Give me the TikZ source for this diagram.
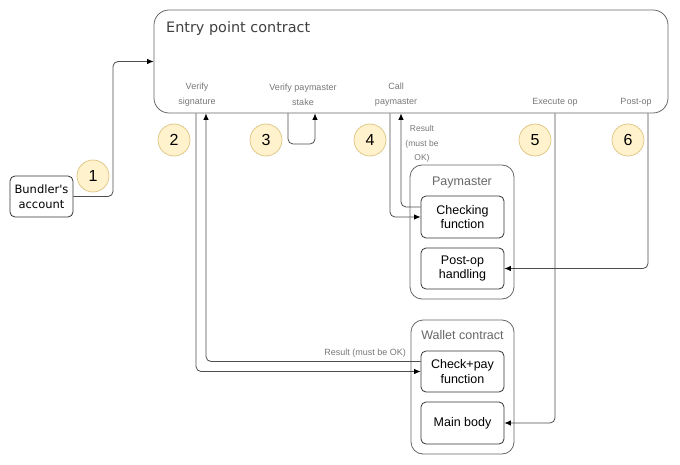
\documentclass[tikz,border=0pt]{standalone}
\usepackage{fontspec}
\setmainfont{Liberation Sans}
\newfontfamily\dejavu{DejaVu Sans}
\usetikzlibrary{arrows.meta}
\definecolor{linegray}{HTML}{4D4D4D}
\definecolor{boxgray}{HTML}{666666}
\definecolor{labgray}{HTML}{777777}
\definecolor{circfill}{HTML}{FFF2CC}
\definecolor{circdraw}{HTML}{DCC47E}
\tikzset{
  conn/.style={draw=linegray, line width=0.8pt, rounded corners=5pt, -{Latex[length=6.5pt,width=5.5pt,color=black]}},
  outerbox/.style={draw=boxgray, line width=0.8pt, rounded corners=12pt, inner sep=0pt},
  innerbox/.style={draw=black!80, line width=0.8pt, rounded corners=5pt, align=center, inner sep=0pt,
    font=\fontsize{12.5}{14.5}\selectfont, text=black},
  numcirc/.style={circle, fill=circfill, draw=circdraw, line width=0.7pt, minimum size=32pt, inner sep=0pt,
    font=\fontsize{16}{16}\selectfont},
  smalllab/.style={text=labgray, align=center, font=\fontsize{9}{15}\selectfont, inner sep=0pt},
  cont/.style={text=boxgray, font=\fontsize{12.5}{14}\selectfont, inner sep=0pt}
}
\begin{document}
\begin{tikzpicture}[x=1pt,y=-1pt]
\useasboundingbox (0,0) rectangle (680,465);
% boxes
\node[outerbox, minimum width=514pt, minimum height=103pt, rounded corners=15pt] (entry) at (411,61.5) {};
\node[anchor=base west, text=black!75, font=\dejavu\fontsize{14.4}{16}\selectfont, inner sep=0pt] (entrytitle) at (166,33) {Entry point contract};
\node[innerbox, minimum width=63pt, minimum height=41pt, font=\dejavu\fontsize{11.5}{15}\selectfont] (bundler) at (41.5,196.5) {Bundler's\\account};

\node[outerbox, minimum width=104pt, minimum height=134pt] (paymaster) at (462,232) {};
\node[cont] (paytitle) at (462,182) {Paymaster};
\node[innerbox, minimum width=83pt, minimum height=42pt] (checking) at (462.5,217) {Checking\\function};
\node[innerbox, minimum width=83pt, minimum height=41pt] (posthandling) at (462.5,268.5) {Post-op\\handling};

\node[outerbox, minimum width=103pt, minimum height=134pt] (wallet) at (462.5,387) {};
\node[cont] (wallettitle) at (462.5,335) {Wallet contract};
\node[innerbox, minimum width=83pt, minimum height=41pt] (checkpay) at (462.5,371.5) {Check+pay\\function};
\node[innerbox, minimum width=83pt, minimum height=42pt] (mainbody) at (462.5,423) {Main body};

% labels in entry point
\node[smalllab] (lsig) at (197,94.5) {Verify\\signature};
\node[smalllab] (lstake) at (303,94.5) {Verify paymaster\\stake};
\node[smalllab] (lcall) at (396,94.5) {Call\\paymaster};
\node[smalllab] (lexec) at (555,102.5) {Execute op};
\node[smalllab] (lpost) at (636,102.5) {Post-op};

% circles
\node[numcirc] (n1) at (93,176) {1};
\node[numcirc] (n2) at (174,140) {2};
\node[numcirc] (n3) at (266,140) {3};
\node[numcirc] (n4) at (370,140) {4};
\node[numcirc] (n5) at (535,140) {5};
\node[numcirc] (n6) at (628,140) {6};

% helper coordinates
\coordinate (k1) at (113,61.5);
\coordinate (sigA) at (196,0);
\coordinate (sigB) at (206,0);
\coordinate (stA) at (288,0);
\coordinate (stB) at (315,144);
\coordinate (cpA) at (390,0);
\coordinate (cpB) at (401,0);
\coordinate (exA) at (555,0);
\coordinate (poA) at (648,0);

% connectors
\draw[conn] (bundler.east) -| (k1) -- (entry.west);
\draw[conn] (entry.south -| sigA) |- (checkpay.west);
\draw[conn] ([yshift=10pt]checkpay.west) -| (entry.south -| sigB);
\draw[conn] (entry.south -| stA) |- (stB) -- (entry.south -| stB);
\draw[conn] (entry.south -| cpA) |- (checking.west);
\draw[conn] ([yshift=10pt]checking.west) -| (entry.south -| cpB);
\draw[conn] (entry.south -| exA) |- (mainbody.east);
\draw[conn] (entry.south -| poA) |- (posthandling.east);

% result labels
\node[smalllab, anchor=east] (res1) at (406,353) {Result (must be OK)};
\node[smalllab, font=\fontsize{8.5}{14.5}\selectfont] (res2) at (422,144) {Result\\(must be\\OK)};
\end{tikzpicture}
\end{document}
